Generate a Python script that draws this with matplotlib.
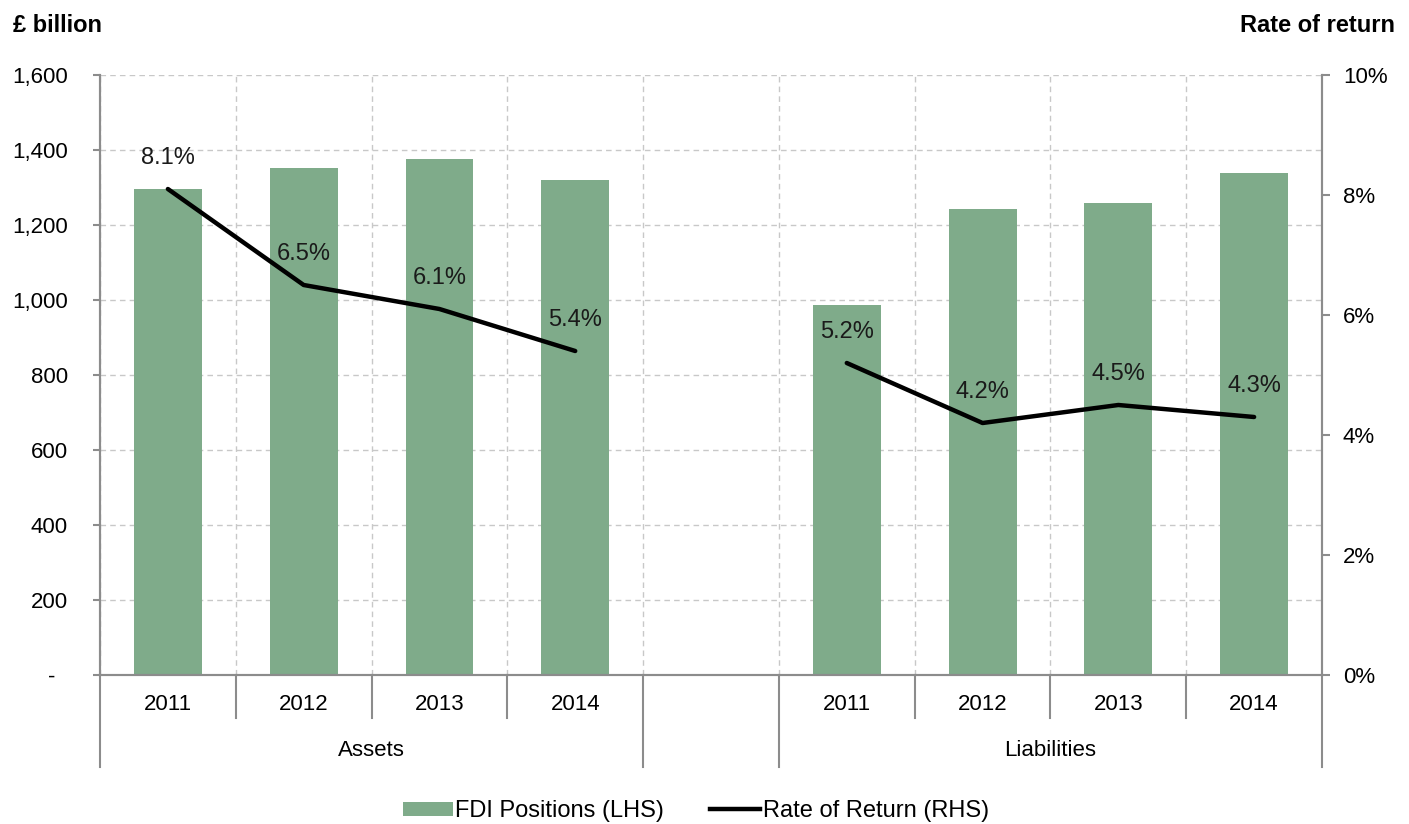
import numpy as np
import matplotlib.pyplot as plt
from matplotlib.patches import Patch
from matplotlib.lines import Line2D
from matplotlib.ticker import FuncFormatter

plt.rcParams['font.family'] = ['Liberation Sans', 'DejaVu Sans']

# data
groups = ["Assets", "Liabilities"]
years = ["2011", "2012", "2013", "2014"]
assets_pos = [1297, 1352, 1376, 1320]
liab_pos = [986, 1243, 1258, 1340]
assets_ror = [8.1, 6.5, 6.1, 5.4]
liab_ror = [5.2, 4.2, 4.5, 4.3]

bar_color = "#7fab8a"
axis_grey = "#8c8c8c"
grid_grey = "#c8c8c8"
fs = 16

fig = plt.figure(figsize=(14.09, 8.24), dpi=100)
ax = fig.add_axes([100 / 1409, 149 / 824, 1222 / 1409, 600 / 824])
ax2 = ax.twinx()

x_a = np.arange(4)
x_l = np.arange(4) + 5

ax.bar(x_a, assets_pos, width=0.5, color=bar_color, zorder=2)
ax.bar(x_l, liab_pos, width=0.5, color=bar_color, zorder=2)

ax.set_xlim(-0.5, 8.5)
ax.set_ylim(0, 1600)
ax.set_yticks(np.arange(0, 1601, 200))
# accounting style: zero shown as a dash, padded like Excel does
ax.yaxis.set_major_formatter(FuncFormatter(lambda v, p: "-  " if v == 0 else f"{int(v):,}"))
ax.set_xticks(list(x_a) + list(x_l))
ax.set_xticklabels(years * 2)
ax.set_xticks(np.arange(-0.5, 9, 1), minor=True)
ax.tick_params(axis='x', which='both', length=0, labelsize=fs, pad=14)
ax.tick_params(axis='y', length=5, width=1.5, color=axis_grey, labelsize=fs, pad=18)
ax.grid(axis='y', which='major', color=grid_grey, linestyle=(0, (4, 3)), linewidth=1)
ax.grid(axis='x', which='minor', color=grid_grey, linestyle=(0, (4, 3)), linewidth=1)
ax.set_axisbelow(True)

ax.spines['top'].set_visible(False)
ax2.spines['top'].set_visible(False)
for sp in ['left', 'bottom', 'right']:
    ax.spines[sp].set_color(axis_grey)
    ax2.spines[sp].set_color(axis_grey)
    ax.spines[sp].set_linewidth(1.5)
    ax2.spines[sp].set_linewidth(1.5)

# category separators below the axis
tr = ax.get_xaxis_transform()
for b in np.arange(-0.5, 9, 1):
    y_end = -0.153 if b in (-0.5, 3.5, 4.5, 8.5) else -0.072
    ax.plot([b, b], [0, y_end], color=axis_grey, lw=1.5, transform=tr, clip_on=False)
ax.text(1.5, -0.125, groups[0], transform=tr, ha='center', va='center', fontsize=fs)
ax.text(6.5, -0.125, groups[1], transform=tr, ha='center', va='center', fontsize=fs)

# rate of return line
ax2.plot(x_a, assets_ror, color='black', lw=3.2, zorder=3, solid_capstyle='round')
ax2.plot(x_l, liab_ror, color='black', lw=3.2, zorder=3, solid_capstyle='round')
for xs, ys in [(x_a, assets_ror), (x_l, liab_ror)]:
    for xv, yv in zip(xs, ys):
        ax2.annotate(f"{yv}%", (xv, yv), xytext=(0, 22), textcoords='offset points',
                     ha='center', va='center', fontsize=17, color='#1a1a1a')
ax2.set_ylim(0, 10)
ax2.set_yticks(np.arange(0, 11, 2))
ax2.yaxis.set_major_formatter(FuncFormatter(lambda v, p: f"{int(v)}%"))
ax2.tick_params(axis='y', length=6, width=1.5, color=axis_grey, labelsize=fs, pad=9)

fig.text(13 / 1409, 1 - 25 / 824, "£ billion", fontsize=17, fontweight='bold', va='center', ha='left')
fig.text(1395 / 1409, 1 - 25 / 824, "Rate of return", fontsize=17, fontweight='bold', va='center', ha='right')

handles = [Patch(facecolor=bar_color, edgecolor='none'), Line2D([0], [0], color='black', lw=3.2)]
fig.legend(handles, ["FDI Positions (LHS)", "Rate of Return (RHS)"], loc='center',
           bbox_to_anchor=(696 / 1409, 1 - 811 / 824), ncol=2, frameon=False, fontsize=17,
           handlelength=2.1, handletextpad=0.12, columnspacing=1.95, handleheight=0.55)

fig.savefig("out.png", dpi=100)
